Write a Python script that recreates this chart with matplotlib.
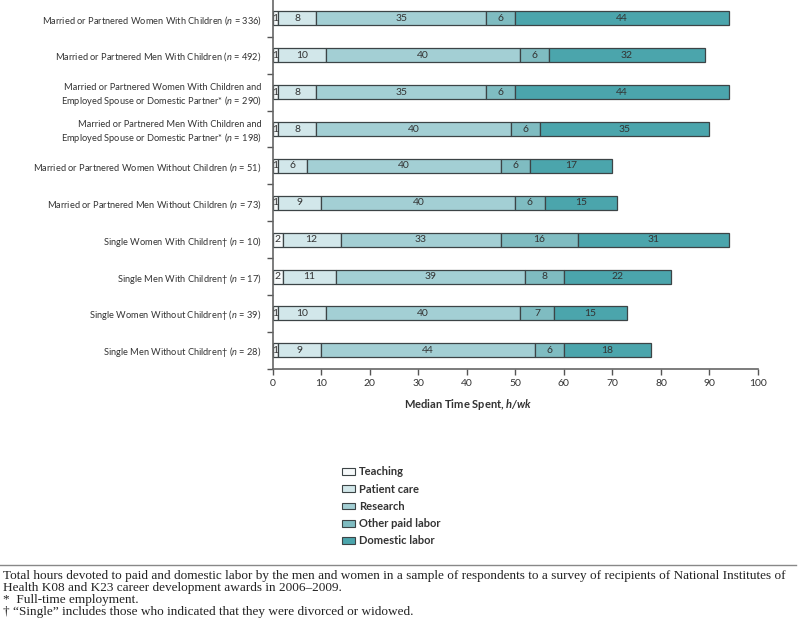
import numpy as np
import matplotlib
matplotlib.use("Agg")
import matplotlib.pyplot as plt
from matplotlib.patches import Patch

plt.rcParams['font.family'] = ['Lato', 'DejaVu Sans']
plt.rcParams['mathtext.fontset'] = 'custom'
plt.rcParams['mathtext.it'] = 'Lato:italic'
plt.rcParams['mathtext.rm'] = 'Lato'
plt.rcParams['mathtext.bfit'] = 'Lato:italic:bold'

# data
groups = [
    "Married or Partnered Women With Children ($n$ = 336)",
    "Married or Partnered Men With Children ($n$ = 492)",
    "Married or Partnered Women With Children and\nEmployed Spouse or Domestic Partner* ($n$ = 290)",
    "Married or Partnered Men With Children and\nEmployed Spouse or Domestic Partner* ($n$ = 198)",
    "Married or Partnered Women Without Children ($n$ = 51)",
    "Married or Partnered Men Without Children ($n$ = 73)",
    "Single Women With Children\u2020 ($n$ = 10)",
    "Single Men With Children\u2020 ($n$ = 17)",
    "Single Women Without Children\u2020 ($n$ = 39)",
    "Single Men Without Children\u2020 ($n$ = 28)",
]
categories = ["Teaching", "Patient care", "Research", "Other paid labor", "Domestic labor"]
teaching = [1, 1, 1, 1, 1, 1, 2, 2, 1, 1]
patient_care = [8, 10, 8, 8, 6, 9, 12, 11, 10, 9]
research = [35, 40, 35, 40, 40, 40, 33, 39, 40, 44]
other_paid = [6, 6, 6, 6, 6, 6, 16, 8, 7, 6]
domestic = [44, 32, 44, 35, 17, 15, 31, 22, 15, 18]
x_ticks = list(range(0, 101, 10))

colors = ["#f6f9fa", "#d2e7ea", "#a3cfd4", "#7fbcc1", "#4ba5ac"]
edge = "#3c4446"
text_col = "#333333"

fig = plt.figure(figsize=(8, 6.26), dpi=100)
ax = fig.add_axes([0.341, 0.411, 0.6065, 0.589])

series = [teaching, patient_care, research, other_paid, domestic]
y = np.arange(len(groups))
left = np.zeros(len(groups))
for vals, col in zip(series, colors):
    vals = np.array(vals, dtype=float)
    ax.barh(y, vals, left=left, height=0.38, color=col, edgecolor=edge, linewidth=0.9)
    for yi, (l, v) in enumerate(zip(left, vals)):
        ax.text(l + v / 2, yi, f"{int(v)}", ha='center', va='center',
                fontsize=7.5, color=text_col)
    left += vals

ax.set_ylim(len(groups) - 0.5, -0.5)
ax.set_xlim(0, 100)
ax.set_yticks(y)
ax.set_yticklabels(groups, fontsize=6.7, color=text_col, ha='right')
ax.tick_params(axis='y', which='major', length=0, pad=8)
ax.set_yticks(np.arange(-0.5, len(groups), 1.0)[1:], minor=True)
ax.tick_params(axis='y', which='minor', length=4, width=1, color='#555555', direction='out')
ax.set_xticks(x_ticks)
ax.tick_params(axis='x', labelsize=7.5, colors='#555555', labelcolor=text_col,
               length=4, width=1, direction='out')

for s in ['top', 'right']:
    ax.spines[s].set_visible(False)
for s in ['left', 'bottom']:
    ax.spines[s].set_color('#666666')
    ax.spines[s].set_linewidth(1.2)

fig.text(468 / 800, 1 - 405 / 626, "Median Time Spent, $\\mathbfit{h/wk}$", ha='center', va='center',
         fontsize=8, fontweight='bold', color=text_col)

handles = [Patch(facecolor=c, edgecolor=edge, linewidth=0.8) for c in colors]
leg = fig.legend(handles, categories, loc='upper left', bbox_to_anchor=(338 / 800, 1 - 462 / 626),
                 frameon=False, fontsize=8, handlelength=1.1, handleheight=0.55,
                 handletextpad=0.4, labelspacing=0.56, borderaxespad=0)
for t in leg.get_texts():
    t.set_fontweight('bold')
    t.set_color(text_col)

# footnote
fig.add_artist(plt.Line2D([0, 0.995], [1 - 564.5 / 626, 1 - 564.5 / 626], color='#888888', linewidth=1.0))
notes = [
    "Total hours devoted to paid and domestic labor by the men and women in a sample of respondents to a survey of recipients of National Institutes of",
    "Health K08 and K23 career development awards in 2006\u20132009.",
    "*  Full-time employment.",
    "\u2020 \u201cSingle\u201d includes those who indicated that they were divorced or widowed.",
]
for i, line in enumerate(notes):
    fig.text(3 / 800, 1 - (576.5 + i * 11.8) / 626, line, ha='left', va='center',
             fontsize=9.55, family=['Liberation Serif', 'DejaVu Serif'], color='#222222')

fig.savefig("out.png", dpi=100)
